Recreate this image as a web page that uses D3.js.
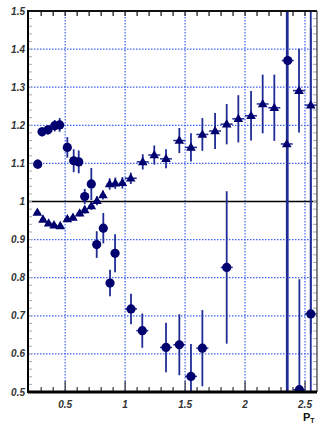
<!DOCTYPE html>
<html>
<head>
<meta charset="utf-8">
<script src="https://cdn.jsdelivr.net/npm/d3@7"></script>
<style>
  body { margin: 0; background: #fff; }
  text { font-family: "Liberation Sans", Arial, sans-serif; }
</style>
</head>
<body>
<div id="chart"></div>
<script>
//Width and height
var w = 320;
var h = 428;
var plotLeft = 28, plotRight = 317, plotTop = 11, plotBottom = 392;

// circles: pT, ratio, stat error
var circX = [0.271, 0.307, 0.357, 0.413, 0.454, 0.518, 0.571, 0.613, 0.663, 0.718, 0.763, 0.818, 0.874, 0.916,
             1.049, 1.143, 1.341, 1.452, 1.549, 1.644, 1.847, 2.356, 2.453, 2.548];
var circY = [1.098, 1.183, 1.188, 1.199, 1.201, 1.142, 1.107, 1.104, 1.013, 1.046, 0.887, 0.930, 0.786, 0.864,
             0.718, 0.661, 0.617, 0.624, 0.541, 0.615, 0.827, 1.370, 0.506, 0.705];
var circErr = [0.012, 0.012, 0.012, 0.015, 0.018, 0.027, 0.03, 0.03, 0.02, 0.042, 0.035, 0.04, 0.035, 0.05,
               0.04, 0.045, 0.065, 0.08, 0.085, 0.1, 0.2, 1.0, 0.29, 0.75];

// triangles: pT, ratio, stat error
var triX = [0.268, 0.315, 0.362, 0.407, 0.459, 0.518, 0.565, 0.621, 0.663, 0.718, 0.765, 0.815, 0.871, 0.918, 0.977,
            1.047, 1.147, 1.243, 1.341, 1.452, 1.549, 1.644, 1.75, 1.847, 1.944, 2.05, 2.147, 2.244, 2.348, 2.45, 2.548];
var triY = [0.971, 0.953, 0.943, 0.938, 0.936, 0.954, 0.958, 0.969, 0.978, 0.988, 1.002, 1.017, 1.046, 1.048, 1.049,
            1.061, 1.104, 1.122, 1.112, 1.160, 1.142, 1.176, 1.185, 1.203, 1.217, 1.225, 1.256, 1.246, 1.151, 1.291, 1.253];
var triErr = [0.006, 0.006, 0.006, 0.006, 0.006, 0.008, 0.008, 0.008, 0.01, 0.01, 0.012, 0.012, 0.015, 0.015, 0.015,
              0.015, 0.02, 0.025, 0.025, 0.033, 0.037, 0.043, 0.047, 0.053, 0.062, 0.065, 0.077, 0.087, 0.9, 0.11, 0.6];

var xTicks = [0.5, 1, 1.5, 2, 2.5];
var xTickLabels = ["0.5", "1", "1.5", "2", "2.5"];
var yTicks = [0.5, 0.6, 0.7, 0.8, 0.9, 1, 1.1, 1.2, 1.3, 1.4, 1.5];
var yTickLabels = ["0.5", "0.6", "0.7", "0.8", "0.9", "1", "1.1", "1.2", "1.3", "1.4", "1.5"];

var markColor = "#00006e";
var barColor = "#1f2c96";
var gridColor = "#3f62f0";

var circles = circX.map(function (x, i) { return { x: x, y: circY[i], e: circErr[i], xe: x < 1 ? 0.025 : 0.05 }; });
var triangles = triX.map(function (x, i) { return { x: x, y: triY[i], e: triErr[i], xe: x < 1 ? 0.025 : 0.05 }; });

var xScale = d3.scaleLinear().domain([0.19, 2.6]).range([plotLeft, plotRight]);
var yScale = d3.scaleLinear().domain([0.5, 1.5]).range([plotBottom, plotTop]);

var svg = d3.select("#chart").append("svg")
    .attr("width", w)
    .attr("height", h);

svg.append("clipPath").attr("id", "clip")
    .append("rect")
    .attr("x", plotLeft).attr("y", plotTop)
    .attr("width", plotRight - plotLeft).attr("height", plotBottom - plotTop);

//Grid lines, dotted blue
svg.append("g").selectAll("line")
    .data(xTicks)
    .enter().append("line")
    .attr("x1", d => xScale(d)).attr("x2", d => xScale(d))
    .attr("y1", plotTop).attr("y2", plotBottom)
    .attr("stroke", gridColor).attr("stroke-width", 1.2)
    .attr("stroke-dasharray", "1.5,1.5");

svg.append("g").selectAll("line")
    .data(yTicks.filter(d => d > 0.5 && d < 1.5 && d !== 1))
    .enter().append("line")
    .attr("x1", plotLeft).attr("x2", plotRight)
    .attr("y1", d => yScale(d)).attr("y2", d => yScale(d))
    .attr("stroke", gridColor).attr("stroke-width", 1.2)
    .attr("stroke-dasharray", "1.5,1.5");

//Line at 1
svg.append("line")
    .attr("x1", plotLeft).attr("x2", plotRight)
    .attr("y1", yScale(1)).attr("y2", yScale(1))
    .attr("stroke", "#000").attr("stroke-width", 1.6);

//Minor ticks
var xMinor = d3.range(0.3, 2.6, 0.1);
var yMinor = d3.range(0.52, 1.5, 0.02);

svg.append("g").selectAll("line")
    .data(xMinor)
    .enter().append("line")
    .attr("x1", d => xScale(d)).attr("x2", d => xScale(d))
    .attr("y1", plotTop).attr("y2", plotTop + 5)
    .attr("stroke", "#222").attr("stroke-width", 1.3);

svg.append("g").selectAll("line")
    .data(xMinor)
    .enter().append("line")
    .attr("x1", d => xScale(d)).attr("x2", d => xScale(d))
    .attr("y1", plotBottom)
    .attr("y2", d => Math.abs(d * 2 - Math.round(d * 2)) < 0.01 ? plotBottom - 11 : plotBottom - 5)
    .attr("stroke", "#333").attr("stroke-width", 1.2);

svg.append("g").selectAll("line")
    .data(yMinor)
    .enter().append("line")
    .attr("x1", plotLeft).attr("x2", plotLeft + 4)
    .attr("y1", d => yScale(d)).attr("y2", d => yScale(d))
    .attr("stroke", "#aaa").attr("stroke-width", 1);

svg.append("g").selectAll("line")
    .data(yMinor)
    .enter().append("line")
    .attr("x1", plotRight - 4).attr("x2", plotRight)
    .attr("y1", d => yScale(d)).attr("y2", d => yScale(d))
    .attr("stroke", "#aaa").attr("stroke-width", 1);

//Data layer
var plot = svg.append("g").attr("clip-path", "url(#clip)");

function drawErrors(data) {
    plot.append("g").selectAll("line")
        .data(data)
        .enter().append("line")
        .attr("x1", d => xScale(d.x)).attr("x2", d => xScale(d.x))
        .attr("y1", d => yScale(d.y - d.e)).attr("y2", d => yScale(d.y + d.e))
        .attr("stroke", barColor).attr("stroke-width", 1.8);
    plot.append("g").selectAll("line")
        .data(data)
        .enter().append("line")
        .attr("x1", d => xScale(d.x - d.xe)).attr("x2", d => xScale(d.x + d.xe))
        .attr("y1", d => yScale(d.y)).attr("y2", d => yScale(d.y))
        .attr("stroke", barColor).attr("stroke-width", 1.5);
}

drawErrors(triangles);
drawErrors(circles);

plot.append("g").selectAll("path")
    .data(triangles)
    .enter().append("path")
    .attr("d", d3.symbol().type(d3.symbolTriangle).size(40))
    .attr("transform", d => "translate(" + xScale(d.x) + "," + (yScale(d.y) + 0.5) + ")")
    .attr("fill", markColor);

plot.append("g").selectAll("circle")
    .data(circles)
    .enter().append("circle")
    .attr("cx", d => xScale(d.x))
    .attr("cy", d => yScale(d.y))
    .attr("r", 4.6)
    .attr("fill", markColor);

//Frame
svg.append("line").attr("x1", plotLeft).attr("x2", plotRight).attr("y1", plotTop).attr("y2", plotTop)
    .attr("stroke", "#111").attr("stroke-width", 2);
svg.append("line").attr("x1", plotRight).attr("x2", plotRight).attr("y1", plotTop).attr("y2", plotBottom)
    .attr("stroke", "#333").attr("stroke-width", 1.2);
svg.append("line").attr("x1", plotLeft).attr("x2", plotLeft).attr("y1", plotTop - 1).attr("y2", plotBottom + 1)
    .attr("stroke", "#000").attr("stroke-width", 2);
svg.append("line").attr("x1", plotLeft).attr("x2", plotRight).attr("y1", plotBottom).attr("y2", plotBottom)
    .attr("stroke", "#000").attr("stroke-width", 3);

//Tick labels
svg.append("g").selectAll("text")
    .data(yTicks)
    .enter().append("text")
    .attr("x", plotLeft - 3)
    .attr("y", d => yScale(d) + 3.5)
    .attr("text-anchor", "end")
    .attr("font-size", "10px")
    .attr("font-style", "italic")
    .attr("font-weight", "bold")
    .attr("fill", "#333")
    .text((d, i) => yTickLabels[i]);

svg.append("g").selectAll("text")
    .data(xTicks)
    .enter().append("text")
    .attr("x", d => xScale(d))
    .attr("y", 408)
    .attr("text-anchor", "middle")
    .attr("font-size", "10px")
    .attr("font-style", "italic")
    .attr("font-weight", "bold")
    .attr("fill", "#333")
    .text((d, i) => xTickLabels[i]);

//Axis title
var title = svg.append("text")
    .attr("x", 303)
    .attr("y", 421)
    .attr("font-size", "11px")
    .attr("font-weight", "bold")
    .attr("fill", "#111");
title.append("tspan").text("P");
title.append("tspan").attr("font-size", "7px").attr("dy", 2).text("T");
</script>
</body>
</html>
